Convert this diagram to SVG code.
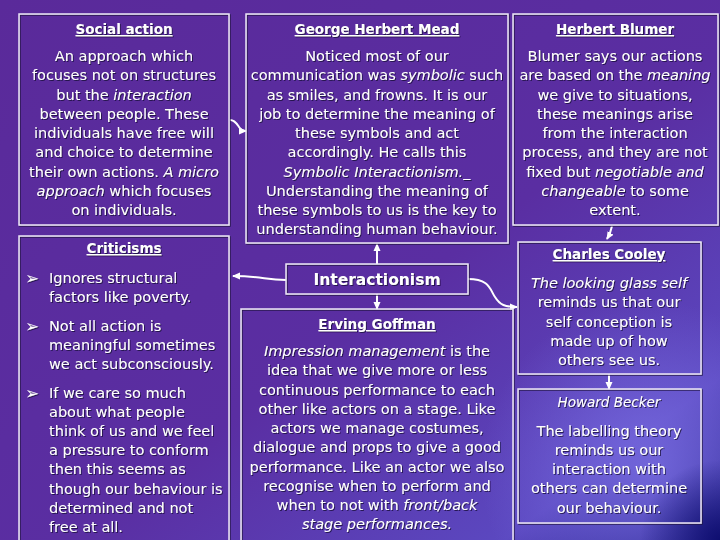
<svg xmlns="http://www.w3.org/2000/svg" width="720" height="540" viewBox="0 0 720 540">
<defs>
<linearGradient id="bg" x1="0" y1="0" x2="1" y2="1">
<stop offset="0" stop-color="#5a2a9a"/>
<stop offset="0.55" stop-color="#5a2ea2"/>
<stop offset="0.85" stop-color="#5b48c0"/>
<stop offset="1" stop-color="#14147a"/>
</linearGradient>
<radialGradient id="glow" cx="650" cy="470" r="170" gradientUnits="userSpaceOnUse">
<stop offset="0" stop-color="#7b70e4" stop-opacity="0.8"/>
<stop offset="1" stop-color="#7b70e4" stop-opacity="0"/>
</radialGradient>
<radialGradient id="dark" cx="720" cy="540" r="80" gradientUnits="userSpaceOnUse">
<stop offset="0" stop-color="#0e0e70" stop-opacity="1"/>
<stop offset="1" stop-color="#0e0e70" stop-opacity="0"/>
</radialGradient>
<filter id="sh" x="-5%" y="-5%" width="110%" height="110%">
<feDropShadow dx="1" dy="1" stdDeviation="0.3" flood-color="#1a0a3a" flood-opacity="0.8"/>
</filter>
<marker id="ah" markerWidth="8" markerHeight="8" refX="7" refY="4" orient="auto" markerUnits="userSpaceOnUse">
<path d="M0,0.5 L8,4 L0,7.5 z" fill="#ffffff"/>
</marker>
<style>
.box{fill:none;stroke:#ece6f6;stroke-width:1.5}
text{font-family:"DejaVu Sans","Liberation Sans",sans-serif;fill:#ffffff}
.t{font-size:13.5px;font-weight:bold;text-anchor:middle;text-decoration:underline}
.b{font-size:14.5px;text-anchor:middle}
.l{font-size:14.5px}
.bu{font-size:17px}
.i{font-style:italic}
.con{fill:none;stroke:#ffffff;stroke-width:2}
</style>
</defs>
<rect width="720" height="540" fill="url(#bg)"/>
<rect width="720" height="540" fill="url(#glow)"/>
<rect width="720" height="540" fill="url(#dark)"/>

<g id="connectors">
<path class="con" d="M230,120 C235,120 237,124 239,127 C241,130 243,131 246,131" marker-end="url(#ah)"/>
<path class="con" d="M612,226 C611,231 610,234 607,239" marker-end="url(#ah)"/>
<path class="con" d="M468,279 C490,279 490,290 495,297 C500,305 505,307 517,307" marker-end="url(#ah)"/>
<path class="con" d="M286,280 C265,280 262,276 233,276" marker-end="url(#ah)"/>
<path class="con" d="M377,264 L377,244" marker-end="url(#ah)"/>
<path class="con" d="M377,294 L377,309" marker-end="url(#ah)"/>
<path class="con" d="M609,374 L609,389" marker-end="url(#ah)"/>
</g>

<g id="social-action" filter="url(#sh)">
<rect class="box" x="19" y="14" width="210" height="211"/>
<text class="t" x="124" y="34">Social action</text>
<text class="b" x="124" y="61">An approach which</text>
<text class="b" x="124" y="80">focuses not on structures</text>
<text class="b" x="124" y="100">but the <tspan class="i">interaction</tspan></text>
<text class="b" x="124" y="119">between people. These</text>
<text class="b" x="124" y="138">individuals have free will</text>
<text class="b" x="124" y="157">and choice to determine</text>
<text class="b" x="124" y="177">their own actions. <tspan class="i">A micro</tspan></text>
<text class="b" x="124" y="196"><tspan class="i">approach</tspan> which focuses</text>
<text class="b" x="124" y="215">on individuals.</text>
</g>

<g id="mead" filter="url(#sh)">
<rect class="box" x="246" y="14" width="262" height="229"/>
<text class="t" x="377" y="34">George Herbert Mead</text>
<text class="b" x="377" y="61">Noticed most of our</text>
<text class="b" x="377" y="80">communication was <tspan class="i">symbolic</tspan> such</text>
<text class="b" x="377" y="100">as smiles, and frowns.  It is our</text>
<text class="b" x="377" y="119">job to determine the meaning of</text>
<text class="b" x="377" y="138">these symbols and act</text>
<text class="b" x="377" y="157">accordingly.  He calls this</text>
<text class="b" x="377" y="177"><tspan class="i">Symbolic Interactionism.</tspan>_</text>
<text class="b" x="377" y="196">Understanding the meaning of</text>
<text class="b" x="377" y="215">these symbols to us is the key to</text>
<text class="b" x="377" y="234">understanding human behaviour.</text>
</g>

<g id="blumer" filter="url(#sh)">
<rect class="box" x="513" y="14" width="205" height="211"/>
<text class="t" x="615" y="34">Herbert Blumer</text>
<text class="b" x="615" y="61">Blumer says our actions</text>
<text class="b" x="615" y="80">are based on the <tspan class="i">meaning</tspan></text>
<text class="b" x="615" y="100">we give to situations,</text>
<text class="b" x="615" y="119">these meanings arise</text>
<text class="b" x="615" y="138">from the interaction</text>
<text class="b" x="615" y="157">process, and they are not</text>
<text class="b" x="615" y="177">fixed but <tspan class="i">negotiable and</tspan></text>
<text class="b" x="615" y="196"><tspan class="i">changeable</tspan> to some</text>
<text class="b" x="615" y="215">extent.</text>
</g>

<g id="criticisms" filter="url(#sh)">
<rect class="box" x="19" y="236" width="210" height="310"/>
<text class="t" x="124" y="253">Criticisms</text>
<text class="bu" x="25" y="284">➢</text>
<text class="l" x="49" y="283">Ignores structural</text>
<text class="l" x="49" y="302">factors like poverty.</text>
<text class="bu" x="25" y="332">➢</text>
<text class="l" x="49" y="331">Not all action is</text>
<text class="l" x="49" y="350">meaningful sometimes</text>
<text class="l" x="49" y="369">we act subconsciously.</text>
<text class="bu" x="25" y="399">➢</text>
<text class="l" x="49" y="398">If we care so much</text>
<text class="l" x="49" y="417">about what people</text>
<text class="l" x="49" y="436">think of us and we feel</text>
<text class="l" x="49" y="455">a pressure to conform</text>
<text class="l" x="49" y="474">then this seems as</text>
<text class="l" x="49" y="494">though our behaviour is</text>
<text class="l" x="49" y="513">determined and not</text>
<text class="l" x="49" y="532">free at all.</text>
</g>

<g id="interactionism" filter="url(#sh)">
<rect class="box" x="286" y="264" width="182" height="30"/>
<text x="377" y="285" font-size="15.5" font-weight="bold" text-anchor="middle">Interactionism</text>
</g>

<g id="goffman" filter="url(#sh)">
<rect class="box" x="241" y="309" width="272" height="236"/>
<text class="t" x="377" y="329">Erving Goffman</text>
<text class="b" x="377" y="356"><tspan class="i">Impression management</tspan> is the</text>
<text class="b" x="377" y="375">idea that we give more or less</text>
<text class="b" x="377" y="395">continuous performance to each</text>
<text class="b" x="377" y="414">other like actors on a stage. Like</text>
<text class="b" x="377" y="433">actors we manage costumes,</text>
<text class="b" x="377" y="452">dialogue and props to give a good</text>
<text class="b" x="377" y="472">performance. Like an actor we also</text>
<text class="b" x="377" y="491">recognise when to perform and</text>
<text class="b" x="377" y="510">when to not with <tspan class="i">front/back</tspan></text>
<text class="b" x="377" y="529"><tspan class="i">stage performances.</tspan></text>
</g>

<g id="cooley" filter="url(#sh)">
<rect class="box" x="518" y="242" width="183" height="132"/>
<text class="t" x="609" y="259">Charles Cooley</text>
<text class="b" x="609" y="288"><tspan class="i">The looking glass self</tspan></text>
<text class="b" x="609" y="307">reminds us that our</text>
<text class="b" x="609" y="327">self conception is</text>
<text class="b" x="609" y="346">made up of how</text>
<text class="b" x="609" y="365">others see us.</text>
</g>

<g id="becker" filter="url(#sh)">
<rect class="box" x="518" y="389" width="183" height="134"/>
<text x="609" y="407" font-size="13.5" font-style="italic" text-anchor="middle">Howard Becker</text>
<text class="b" x="609" y="436">The labelling theory</text>
<text class="b" x="609" y="455">reminds us our</text>
<text class="b" x="609" y="474">interaction with</text>
<text class="b" x="609" y="493">others can determine</text>
<text class="b" x="609" y="513">our behaviour.</text>
</g>
</svg>
